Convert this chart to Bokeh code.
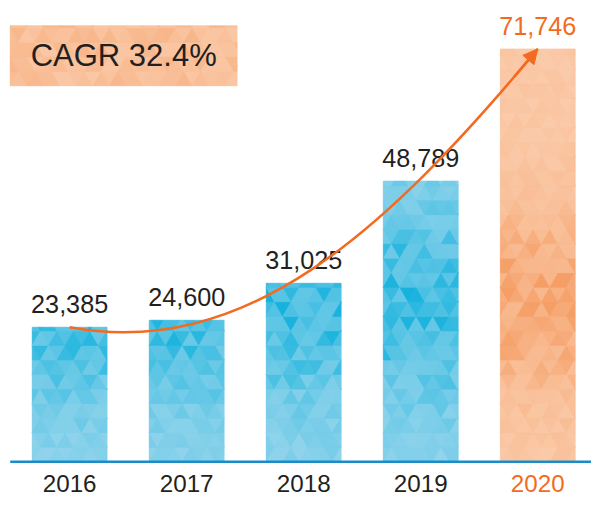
import math
from bokeh.plotting import figure
from bokeh.models import Range1d, Arrow, NormalHead
from bokeh.embed import file_html
from bokeh.resources import INLINE
from bokeh.core.properties import value

# ---------------- data ----------------
years = ["2016", "2017", "2018", "2019", "2020"]
values = [23385, 24600, 31025, 48789, 71746]
value_labels = ["23,385", "24,600", "31,025", "48,789", "71,746"]
cagr_text = "CAGR 32.4%"

# ---------------- geometry / style ----------------
REF_W, REF_H = 607, 516   # layout measured in these px
W, H = 591, 500           # figure size (fits the window with 8px margins)
S = H / REF_H             # text scale
X0_PX = 71                # first bar centre (ref px)
STEP_PX = 120.2           # ref px between bar centres
BASE_PX = 476             # baseline from top (ref px)
UPP = 168.4               # data units per vertical ref px
BAR_W = 0.64

FONT = "Liberation Sans"
TXT = "#231f20"
ORANGE = "#f26b21"
BLUE_LINE = "#1a8cc7"

x_start = -X0_PX / STEP_PX
x_end = (REF_W - X0_PX) / STEP_PX
y_end = BASE_PX * UPP
y_start = -(REF_H - BASE_PX) * UPP


def px_x(px):
    return (px - X0_PX) / STEP_PX


def px_y(py):
    return (BASE_PX - py) * UPP


def fs(px):
    return "%.1fpx" % (px * S)


p = figure(width=W, height=H, x_range=Range1d(x_start, x_end),
           y_range=Range1d(y_start, y_end), output_backend="svg",
           toolbar_location=None, min_border=0,
           x_axis_location=None, y_axis_location=None)
p.grid.visible = False
p.outline_line_color = None
p.background_fill_color = "white"
p.border_fill_color = "white"

idx = list(range(len(years)))
is_last = [i == len(years) - 1 for i in idx]
base_colors = ["#f9c29c" if l else "#7ccae8" for l in is_last]

p.vbar(x=idx, top=values, width=BAR_W, bottom=0, fill_color=base_colors,
       line_color=None)


# ---------------- triangle texture ----------------
def clip_poly(pts, xmin, xmax, ymin, ymax):
    def clip(pts, inside, inter):
        out = []
        n = len(pts)
        for k in range(n):
            cur, prev = pts[k], pts[k - 1]
            if inside(cur):
                if not inside(prev):
                    out.append(inter(prev, cur))
                out.append(cur)
            elif inside(prev):
                out.append(inter(prev, cur))
        return out

    def ix(xc):
        return lambda a, b: (xc, a[1] + (b[1] - a[1]) * (xc - a[0]) / (b[0] - a[0]))

    def iy(yc):
        return lambda a, b: (a[0] + (b[0] - a[0]) * (yc - a[1]) / (b[1] - a[1]), yc)

    for inside, inter in [
        (lambda q: q[0] >= xmin, ix(xmin)),
        (lambda q: q[0] <= xmax, ix(xmax)),
        (lambda q: q[1] >= ymin, iy(ymin)),
        (lambda q: q[1] <= ymax, iy(ymax)),
    ]:
        if not pts:
            return pts
        pts = clip(pts, inside, inter)
    return pts


def shade(a, b, m):
    m = max(0.0, min(1.0, m))
    c = [int(round(a[k] + (b[k] - a[k]) * m)) for k in range(3)]
    return "#%02x%02x%02x" % tuple(c)


def tex_hash(a, b, c):
    v = math.sin(a * 127.1 + b * 311.7 + c * 74.7) * 43758.5453
    return v - math.floor(v)


BLUE_LIGHT, BLUE_DARK = (168, 218, 238), (0, 172, 218)
OR_LIGHT, OR_DARK = (252, 216, 190), (245, 158, 102)

tw = 17.0 / STEP_PX
th = 15.0 * UPP
txs, tys, tcs = [], [], []


def texture(xmin, xmax, ymin, ymax, light, dark, seed, bias, amp, band=True):
    nrows = int(math.ceil((ymax - ymin) / th)) + 1
    ncols = int(math.ceil((xmax - xmin) / tw)) + 2
    for r in range(nrows):
        y0 = ymin + r * th
        y1 = y0 + th
        off = (r % 2) * tw / 2 - tw
        for k in range(ncols):
            xa = xmin + off + k * tw
            tris = [
                [(xa, y0), (xa + tw, y0), (xa + tw / 2, y1)],
                [(xa + tw / 2, y1), (xa + 1.5 * tw, y1), (xa + tw, y0)],
            ]
            for t, tri in enumerate(tris):
                poly = clip_poly(tri, xmin, xmax, ymin, ymax)
                if len(poly) < 3:
                    continue
                h = tex_hash(seed, r, 2 * k + t)
                cy = sum(q[1] for q in poly) / len(poly)
                py = BASE_PX - cy / UPP
                f = math.exp(-((py - 310.0) / 95.0) ** 2) if band else 0.5
                m = bias + 0.12 * h + f * (amp + 0.4 * h ** 2)
                txs.append([q[0] for q in poly])
                tys.append([q[1] for q in poly])
                tcs.append(shade(light, dark, m))


for i, v in zip(idx, values):
    if is_last[i]:
        texture(i - BAR_W / 2, i + BAR_W / 2, 0, v, OR_LIGHT, OR_DARK, i + 1, 0.22, 0.35)
    else:
        texture(i - BAR_W / 2, i + BAR_W / 2, 0, v, BLUE_LIGHT, BLUE_DARK, i + 1, 0.12, 0.3)

# CAGR box
bx0, bx1, by0, by1 = px_x(10), px_x(243), px_y(88), px_y(26)
p.quad(left=[bx0], right=[bx1], bottom=[by0], top=[by1],
       fill_color="#f9c29c", line_color=None)
texture(bx0, bx1, by0, by1, OR_LIGHT, OR_DARK, 9, 0.22, 0.15, band=False)

p.patches(xs=txs, ys=tys, fill_color=tcs, line_color=tcs, line_width=0.6)

p.text(x=[(bx0 + bx1) / 2], y=[(by0 + by1) / 2], text=[cagr_text],
       text_font=value(FONT), text_font_size=fs(32), text_color=TXT,
       text_align="center", text_baseline="middle")

# baseline
p.line(x=[px_x(10), x_end], y=[0, 0], line_color=BLUE_LINE, line_width=2.5)

# value labels (centre 24 ref px above the bar top)
lab_colors = [ORANGE if l else TXT for l in is_last]
p.text(x=idx, y=[v + 24 * UPP for v in values], text=value_labels,
       text_font=value(FONT), text_font_size=fs(26), text_color=lab_colors,
       text_align="center", text_baseline="middle")

# year labels (centre 22 ref px below the baseline)
p.text(x=idx, y=[-22 * UPP] * len(idx), text=years,
       text_font=value(FONT), text_font_size=fs(25), text_color=lab_colors,
       text_align="center", text_baseline="middle")

# growth arrow: cubic bezier from first bar top to last bar top
P0 = (idx[0], values[0])
P3 = (idx[-1], values[-1])
P1 = (px_x(250), px_y(370))
P2 = (px_x(392), px_y(243))
p.bezier(x0=[P0[0]], y0=[P0[1]], x1=[P3[0]], y1=[P3[1]],
         cx0=[P1[0]], cy0=[P1[1]], cx1=[P2[0]], cy1=[P2[1]],
         line_color=ORANGE, line_width=2.5)


def bez(t):
    a = (1 - t) ** 3
    b = 3 * (1 - t) ** 2 * t
    c = 3 * (1 - t) * t ** 2
    d = t ** 3
    return (a * P0[0] + b * P1[0] + c * P2[0] + d * P3[0],
            a * P0[1] + b * P1[1] + c * P2[1] + d * P3[1])


hs = bez(0.95)
p.add_layout(Arrow(end=NormalHead(size=14.5, fill_color=ORANGE, line_color=ORANGE),
                   x_start=hs[0], y_start=hs[1], x_end=P3[0], y_end=P3[1],
                   line_color=ORANGE, line_width=2.5))

open("out.html", "w").write(file_html(p, INLINE))
